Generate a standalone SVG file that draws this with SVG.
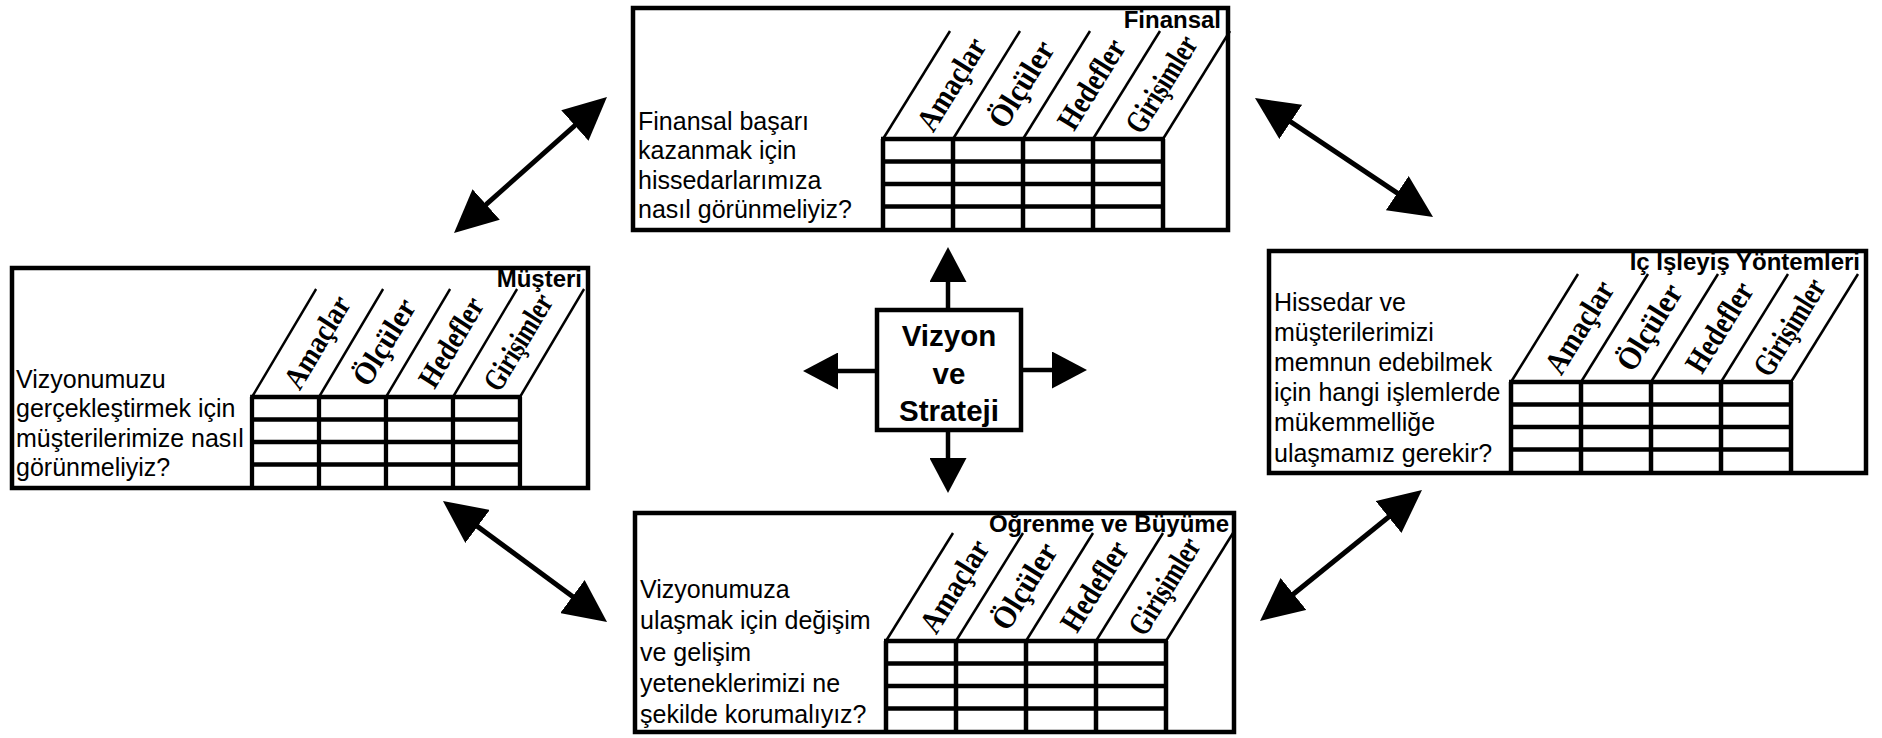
<svg xmlns="http://www.w3.org/2000/svg" xmlns:xlink="http://www.w3.org/1999/xlink" width="1882" height="738" viewBox="0 0 1882 738">
  <style>
    .card { fill: #fff; stroke: #000; stroke-width: 4.5; }
    .body { font-family: "Liberation Sans", Arial, sans-serif; font-size: 25px; fill: #000; }
    .title { font-family: "Liberation Sans", Arial, sans-serif; font-size: 24px; font-weight: bold; text-anchor: end; fill: #000; }
    .hd { font-family: "Liberation Serif", "Times New Roman", serif; font-size: 32px; font-weight: bold; text-anchor: middle; dominant-baseline: central; fill: #000; }
    .cell { stroke: #000; stroke-width: 4.5; }
    .diag { stroke: #000; stroke-width: 2.5; }
    .hub { fill: #fff; stroke: #000; stroke-width: 4.5; }
    .hubtxt { font-family: "Liberation Sans", Arial, sans-serif; font-size: 29.5px; font-weight: bold; text-anchor: middle; fill: #000; }
    .link { stroke: #000; stroke-width: 5; fill: none; }
    .spoke { stroke: #000; stroke-width: 4.5; fill: none; }
  </style>
  <defs>
    <marker id="head" markerUnits="userSpaceOnUse" viewBox="0 0 43 41" markerWidth="43" markerHeight="41" refX="33" refY="20.5" orient="auto-start-reverse">
      <path d="M0,0 L43,20.5 L0,41 Z" fill="#000"/>
    </marker>
    <marker id="headS" markerUnits="userSpaceOnUse" viewBox="0 0 35 37" markerWidth="35" markerHeight="37" refX="27" refY="18.5" orient="auto">
      <path d="M0,0 L35,18.5 L0,37 Z" fill="#000"/>
    </marker>
    <!-- scorecard table: slanted header strip + 4x4 grid, origin at grid top-left -->
    <g id="grid">
      <line class="diag" x1="0" y1="0" x2="67" y2="-108"/>
      <line class="diag" x1="70" y1="0" x2="137" y2="-108"/>
      <line class="diag" x1="140" y1="0" x2="207" y2="-108"/>
      <line class="diag" x1="210" y1="0" x2="277" y2="-108"/>
      <line class="diag" x1="280" y1="0" x2="347" y2="-108"/>
      <line class="cell" x1="-2" y1="0" x2="282" y2="0"/>
      <line class="cell" x1="0" y1="22.5" x2="280" y2="22.5"/>
      <line class="cell" x1="0" y1="45" x2="280" y2="45"/>
      <line class="cell" x1="0" y1="67.5" x2="280" y2="67.5"/>
      <line class="cell" x1="0" y1="0" x2="0" y2="90"/>
      <line class="cell" x1="70" y1="0" x2="70" y2="90"/>
      <line class="cell" x1="140" y1="0" x2="140" y2="90"/>
      <line class="cell" x1="210" y1="0" x2="210" y2="90"/>
      <line class="cell" x1="280" y1="0" x2="280" y2="90"/>
      <text class="hd" transform="translate(68,-55) rotate(-58.2)" textLength="103" lengthAdjust="spacingAndGlyphs">Amaçlar</text>
      <text class="hd" transform="translate(138,-55) rotate(-58.2)" textLength="96" lengthAdjust="spacingAndGlyphs">Ölçüler</text>
      <text class="hd" transform="translate(208,-55) rotate(-58.2)" textLength="100" lengthAdjust="spacingAndGlyphs">Hedefler</text>
      <text class="hd" transform="translate(278,-55) rotate(-58.2)" textLength="108" lengthAdjust="spacingAndGlyphs">Girişimler</text>
    </g>
  </defs>

  <rect width="1882" height="738" fill="#fff"/>

  <!-- Finansal -->
  <g id="finansal">
    <rect class="card" x="633" y="8" width="595" height="222"/>
    <use xlink:href="#grid" href="#grid" transform="translate(883,139)"/>
    <text class="title" x="1221" y="28">Finansal</text>
    <text class="body" x="638" y="130">Finansal başarı</text>
    <text class="body" x="638" y="159">kazanmak için</text>
    <text class="body" x="638" y="188.5">hissedarlarımıza</text>
    <text class="body" x="638" y="217.5">nasıl görünmeliyiz?</text>
  </g>

  <!-- Müşteri -->
  <g id="musteri">
    <rect class="card" x="12" y="268" width="576" height="220"/>
    <use xlink:href="#grid" href="#grid" transform="translate(252,397) scale(0.957,1)"/>
    <text class="title" x="582" y="287">Müşteri</text>
    <text class="body" x="16" y="388">Vizyonumuzu</text>
    <text class="body" x="16" y="417">gerçekleştirmek için</text>
    <text class="body" x="16" y="446.5">müşterilerimize nasıl</text>
    <text class="body" x="16" y="475.5">görünmeliyiz?</text>
  </g>

  <!-- Iç Işleyiş Yöntemleri -->
  <g id="ic-isleyis">
    <rect class="card" x="1269" y="251" width="597" height="222"/>
    <use xlink:href="#grid" href="#grid" transform="translate(1511,382)"/>
    <text class="title" x="1860" y="270">Iç Işleyiş Yöntemleri</text>
    <text class="body" x="1274" y="310.5">Hissedar ve</text>
    <text class="body" x="1274" y="340.7">müşterilerimizi</text>
    <text class="body" x="1274" y="370.9">memnun edebilmek</text>
    <text class="body" x="1274" y="401.1">için hangi işlemlerde</text>
    <text class="body" x="1274" y="431.3">mükemmelliğe</text>
    <text class="body" x="1274" y="461.5">ulaşmamız gerekir?</text>
  </g>

  <!-- Oğrenme ve Büyüme -->
  <g id="ogrenme">
    <rect class="card" x="635" y="513" width="599" height="219"/>
    <use xlink:href="#grid" href="#grid" transform="translate(886,641)"/>
    <text class="title" x="1229" y="532">Oğrenme ve Büyüme</text>
    <text class="body" x="640" y="598">Vizyonumuza</text>
    <text class="body" x="640" y="629.4">ulaşmak için değişim</text>
    <text class="body" x="640" y="660.6">ve gelişim</text>
    <text class="body" x="640" y="691.8">yeteneklerimizi ne</text>
    <text class="body" x="640" y="723">şekilde korumalıyız?</text>
  </g>

  <!-- Vizyon ve Strateji -->
  <g id="vizyon">
    <rect class="hub" x="877" y="310" width="144" height="120"/>
    <text class="hubtxt" x="949" y="346">Vizyon</text>
    <text class="hubtxt" x="949" y="384">ve</text>
    <text class="hubtxt" x="949" y="421">Strateji</text>
  </g>

  <!-- connectors -->
  <g id="connectors">
    <line class="link" x1="461.5" y1="226.4" x2="599.5" y2="103.6" marker-start="url(#head)" marker-end="url(#head)"/>
    <line class="link" x1="1263.3" y1="103.6" x2="1424.7" y2="211.4" marker-start="url(#head)" marker-end="url(#head)"/>
    <line class="link" x1="451" y1="506.9" x2="599" y2="616.1" marker-start="url(#head)" marker-end="url(#head)"/>
    <line class="link" x1="1267.8" y1="614.7" x2="1414.2" y2="496.3" marker-start="url(#head)" marker-end="url(#head)"/>
    <line class="spoke" x1="948" y1="310" x2="948" y2="255" marker-end="url(#headS)"/>
    <line class="spoke" x1="877" y1="371" x2="811" y2="371" marker-end="url(#headS)"/>
    <line class="spoke" x1="1021" y1="370" x2="1079" y2="370" marker-end="url(#headS)"/>
    <line class="spoke" x1="948" y1="430" x2="948" y2="485" marker-end="url(#headS)"/>
  </g>
</svg>
